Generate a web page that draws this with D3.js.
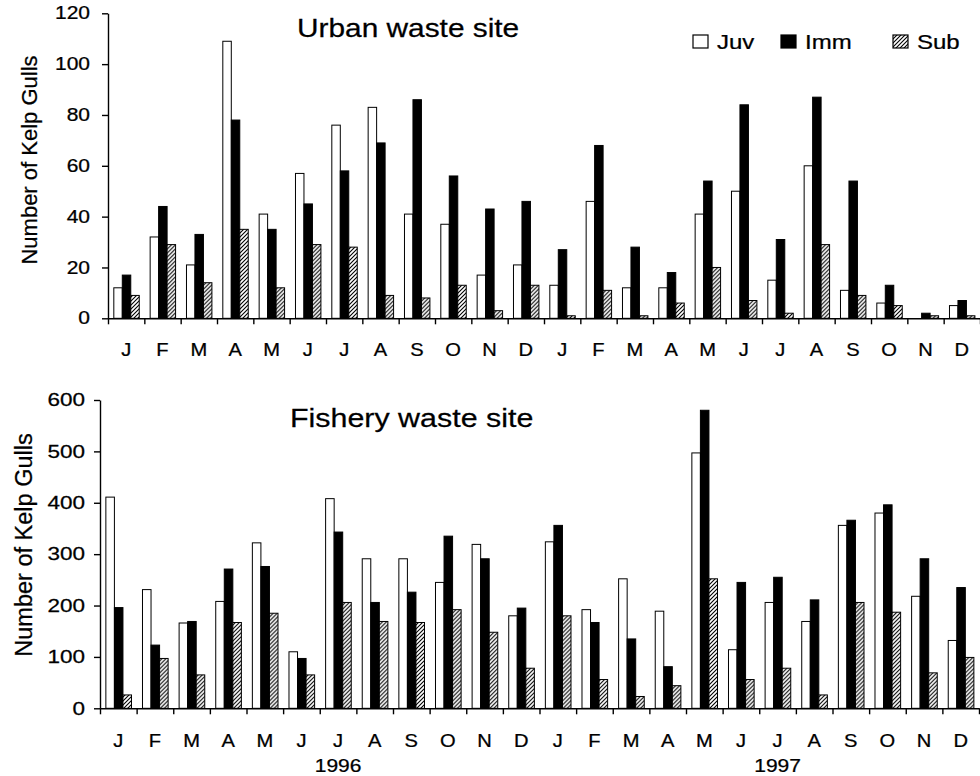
<!DOCTYPE html>
<html>
<head>
<meta charset="utf-8">
<script src="https://cdn.jsdelivr.net/npm/d3@7"></script>
<style>
  body { margin: 0; background: #fff; }
  text { font-family: "Liberation Sans", Arial, sans-serif; fill: #000; stroke: #000; stroke-width: 0.25; }
</style>
</head>
<body>
<svg width="980" height="776"></svg>
<script>
// month labels for 1996 and 1997
var months = ["J","F","M","A","M","J","J","A","S","O","N","D",
              "J","F","M","A","M","J","J","A","S","O","N","D"];
var years = [{label: "1996", month: 6}, {label: "1997", month: 18}];
var keys = ["Juv", "Imm", "Sub"];

// Urban waste site
var urbanJuv = [12,32,21,109,41,57,76,83,41,37,17,21, 13,46,12,12,41,50,15,60,11,6,0,5];
var urbanImm = [17,44,33,78,35,45,58,69,86,56,43,46, 27,68,28,18,54,84,31,87,54,13,2,7];
var urbanSub = [9,29,14,35,12,29,28,9,8,13,3,13, 1,11,1,6,20,7,2,29,9,5,1,1];
var urbanTicks = [0,20,40,60,80,100,120];

// Fishery waste site
var fisheryJuv = [411,231,166,208,322,110,408,291,291,245,319,180, 324,192,252,189,497,114,206,169,356,380,218,132];
var fisheryImm = [196,123,169,271,276,97,343,206,226,335,291,195, 356,167,135,81,580,245,255,211,366,396,291,235];
var fisherySub = [26,97,65,167,185,65,206,169,167,192,148,78, 180,56,23,44,252,56,78,26,206,187,69,99];
var fisheryTicks = [0,100,200,300,400,500,600];

var svg = d3.select("svg");

var defs = svg.append("defs");
var pat = defs.append("pattern")
  .attr("id", "hatch")
  .attr("patternUnits", "userSpaceOnUse")
  .attr("width", 4)
  .attr("height", 4);
pat.append("rect").attr("width", 4).attr("height", 4).attr("fill", "#fff");
pat.append("path")
  .attr("d", "M-1,1 l2,-2 M0,4 l4,-4 M3,5 l2,-2")
  .attr("stroke", "#000")
  .attr("stroke-width", 1.1);

var fills = {Juv: "#fff", Imm: "#000", Sub: "url(#hatch)"};

// text that is a bit wider than the font, like the scanned figure
function wideText(parent, x, y, str, size, sx, anchor) {
  return parent.append("text")
    .attr("transform", "translate(" + x + "," + y + ") scale(" + sx + ",1)")
    .attr("font-size", size)
    .attr("text-anchor", anchor || "start")
    .text(str);
}

function drawPanel(p) {
  var x = d3.scaleBand().domain(d3.range(months.length)).range(p.xRange);
  var xEdge = d3.scaleLinear().domain([0, months.length]).range(p.xRange);
  var x1 = d3.scaleBand().domain(keys)
    .range([x.bandwidth() * 0.16, x.bandwidth() * 0.86]);
  var y = d3.scaleLinear().domain([0, p.max]).range(p.yRange);

  var rows = months.map(function(m, i) {
    return {i: i, Juv: p.juv[i], Imm: p.imm[i], Sub: p.sub[i]};
  });

  var groups = svg.append("g").selectAll("g")
    .data(rows)
    .enter().append("g")
    .attr("transform", function(d) { return "translate(" + x(d.i) + ",0)"; });

  groups.selectAll("rect")
    .data(function(d) { return keys.map(function(k) { return {key: k, value: d[k]}; }); })
    .enter().append("rect")
    .attr("x", function(d) { return x1(d.key); })
    .attr("y", function(d) { return y(d.value); })
    .attr("width", x1.bandwidth())
    .attr("height", function(d) { return y(0) - y(d.value); })
    .attr("fill", function(d) { return fills[d.key]; })
    .attr("stroke", "#000")
    .attr("stroke-width", function(d) { return d.value > 0 ? 1 : 0; });

  // x axis: ticks between months
  var xa = svg.append("g")
    .attr("transform", "translate(0," + y(0) + ")")
    .call(d3.axisBottom(xEdge).tickValues(d3.range(months.length + 1))
      .tickFormat("").tickSize(6).tickSizeOuter(0));
  xa.selectAll("path,line").attr("stroke-width", 1.4);

  months.forEach(function(m, i) {
    wideText(svg, x(i) + x.bandwidth() / 2, p.monthY, m, 17.5, 1.15, "middle");
  });

  // y axis
  var ya = svg.append("g")
    .attr("transform", "translate(" + p.xRange[0] + ",0)")
    .call(d3.axisLeft(y).tickValues(p.ticks).tickSize(6)
      .tickPadding(p.pad).tickSizeOuter(0));
  ya.selectAll("path,line").attr("stroke-width", 1.4);
  ya.selectAll("text")
    .attr("font-family", null)
    .attr("font-size", p.tickSize)
    .attr("x", -(6 + p.pad) / p.tickSx)
    .attr("transform", "scale(" + p.tickSx + ",1)");

  svg.append("text")
    .attr("transform", "translate(" + p.labelX + "," + p.labelY + ") rotate(-90)")
    .attr("font-size", p.labelSize)
    .attr("text-anchor", "middle")
    .text("Number of Kelp Gulls");

  wideText(svg, p.titleX, p.titleY, p.title, p.titleSize, 1.17);

  return x;
}

drawPanel({
  juv: urbanJuv, imm: urbanImm, sub: urbanSub, ticks: urbanTicks, max: 120,
  xRange: [108, 980], yRange: [318.3, 13.3], monthY: 356,
  pad: 12, tickSize: 17.5, tickSx: 1.2,
  labelX: 37, labelY: 160, labelSize: 22,
  title: "Urban waste site", titleX: 297, titleY: 37, titleSize: 25.5
});

var xb = drawPanel({
  juv: fisheryJuv, imm: fisheryImm, sub: fisherySub, ticks: fisheryTicks, max: 600,
  xRange: [100, 979], yRange: [708.3, 400], monthY: 747,
  pad: 9, tickSize: 18, tickSx: 1.25,
  labelX: 32, labelY: 545, labelSize: 23.5,
  title: "Fishery waste site", titleX: 290, titleY: 427, titleSize: 26
});

years.forEach(function(yr) {
  wideText(svg, xb(yr.month) + xb.bandwidth() / 2, 772, yr.label, 17.5, 1.2, "middle");
});

// legend
var legendX = [693, 781, 893];
keys.forEach(function(k, i) {
  svg.append("rect")
    .attr("x", legendX[i]).attr("y", 35)
    .attr("width", 15).attr("height", 13)
    .attr("fill", fills[k])
    .attr("stroke", "#000")
    .attr("stroke-width", 1.2);
  wideText(svg, legendX[i] + 24, 48.5, k, 20, 1.2);
});
</script>
</body>
</html>
